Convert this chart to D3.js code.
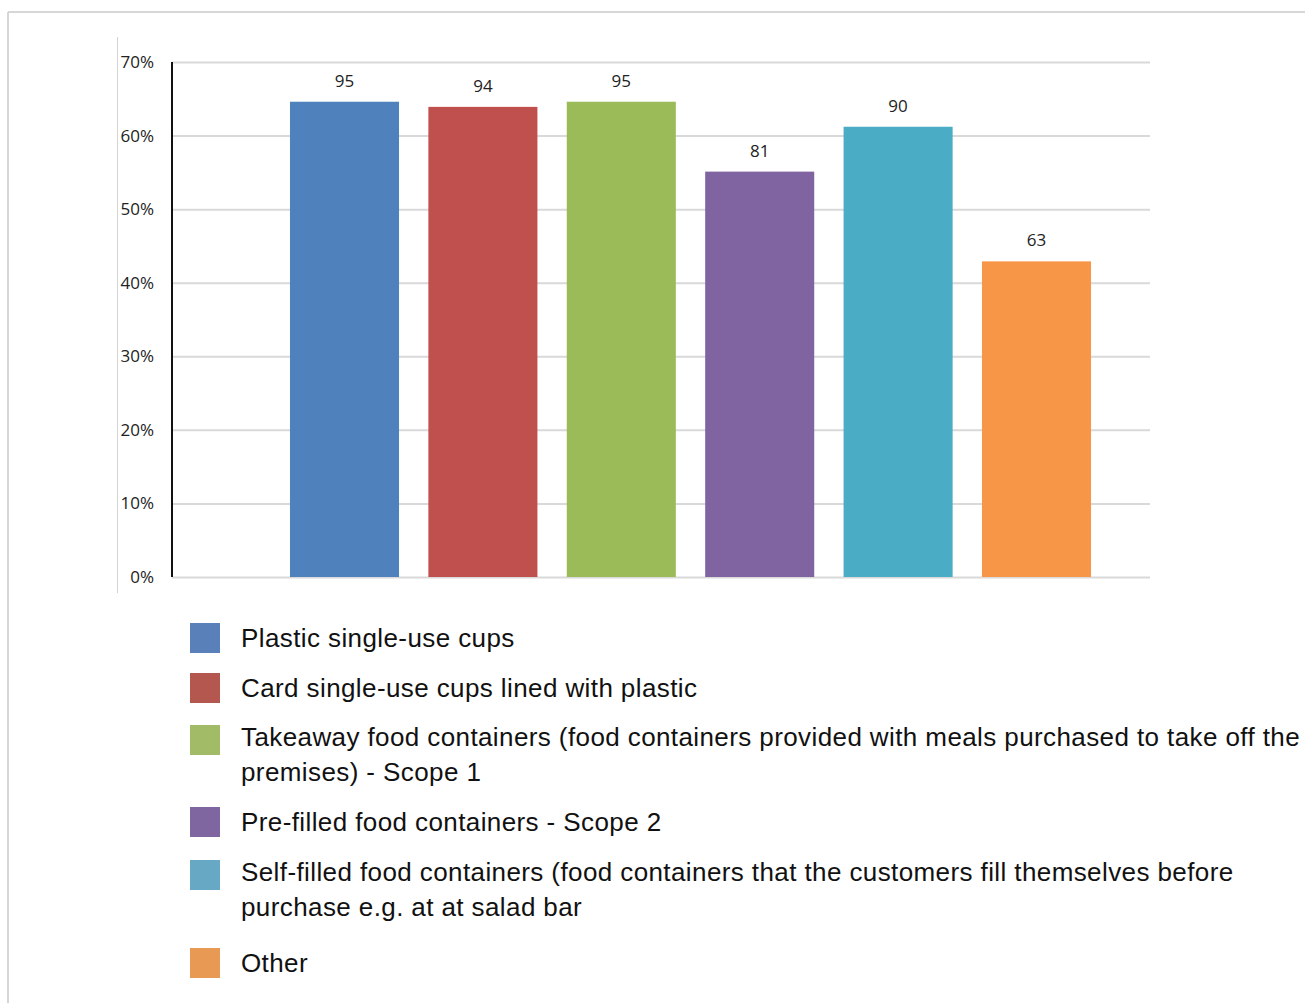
<!DOCTYPE html>
<html><head><meta charset="utf-8">
<script src="https://cdn.jsdelivr.net/npm/d3@7"></script>
<style>body{margin:0;background:#fff;}svg{display:block;}</style>
</head><body>
<svg id="c" width="1305" height="1003"></svg>
<script>
const categories = [
  "Plastic single-use cups",
  "Card single-use cups lined with plastic",
  "Takeaway food containers (food containers provided with meals purchased to take off the|premises) - Scope 1",
  "Pre-filled food containers - Scope 2",
  "Self-filled food containers (food containers that the customers fill themselves before|purchase e.g. at at salad bar",
  "Other"
];
const percentValues = [64.6, 63.9, 64.6, 55.1, 61.2, 42.9];
const countLabels = [95, 94, 95, 81, 90, 63];
const yTicks = [0, 10, 20, 30, 40, 50, 60, 70];
const barColors = ["#4f81bd", "#c0504d", "#9bbb59", "#8064a2", "#4bacc6", "#f79646"];
const legendColors = ["#5a80b9", "#b3574f", "#a2bb66", "#7f66a0", "#67a9c4", "#e89a55"];

const svg = d3.select("#c");
// outer frame
svg.append("line").attr("x1", 8).attr("x2", 1305).attr("y1", 12).attr("y2", 12).attr("stroke", "#d6d6d6").attr("stroke-width", 2);
svg.append("line").attr("x1", 8).attr("x2", 8).attr("y1", 12).attr("y2", 1003).attr("stroke", "#d6d6d6").attr("stroke-width", 2);
// inner image edge
svg.append("line").attr("x1", 117.5).attr("x2", 117.5).attr("y1", 37).attr("y2", 593).attr("stroke", "#d4d4d4").attr("stroke-width", 1);

const y = d3.scaleLinear().domain([0, 70]).range([577, 62]);
const x = d3.scaleBand().domain(d3.range(categories.length)).range([275.3, 1105.7]).paddingInner(0.212).paddingOuter(0.106);

// gridlines
const grid = svg.append("g").attr("transform", "translate(172,0)")
  .call(d3.axisLeft(y).tickValues(yTicks).tickSize(-978).tickFormat(""));
grid.select(".domain").remove();
grid.selectAll(".tick line").attr("stroke", "#d9d9d9").attr("stroke-width", 2);

// y axis labels
const yAx = svg.append("g").attr("transform", "translate(154,0)")
  .call(d3.axisLeft(y).tickValues(yTicks).tickSize(0).tickPadding(0).tickFormat(d => d + "%"));
yAx.select(".domain").remove();
yAx.selectAll("text").attr("font-family", "Open Sans").attr("font-size", 17).attr("fill", "#222").attr("text-anchor", "end");

// bars
svg.append("g").selectAll("rect").data(percentValues).join("rect")
  .attr("x", (d, i) => x(i)).attr("width", x.bandwidth())
  .attr("y", d => y(d)).attr("height", d => y(0) - y(d))
  .attr("fill", (d, i) => barColors[i]);

// value labels
svg.append("g").selectAll("text").data(percentValues).join("text")
  .attr("x", (d, i) => x(i) + x.bandwidth() / 2).attr("y", d => y(d) - 15)
  .attr("text-anchor", "middle").attr("font-family", "Open Sans").attr("font-size", 17).attr("fill", "#222")
  .text((d, i) => countLabels[i]);

// y axis line
svg.append("line").attr("x1", 172).attr("x2", 172).attr("y1", y(70)).attr("y2", y(0)).attr("stroke", "#111").attr("stroke-width", 2);

// legend
const legendTop = [638, 688, 737, 822, 872, 963];
const lg = svg.append("g");
categories.forEach((c, i) => {
  const lines = c.split("|");
  const sy = lines.length > 1 ? legendTop[i] + 3 : legendTop[i];
  lg.append("rect").attr("x", 190).attr("y", sy - 15).attr("width", 30).attr("height", 30).attr("fill", legendColors[i]);
  lines.forEach((t, j) => {
    lg.append("text").attr("x", 241).attr("y", legendTop[i] + j * 35 + 9)
      .attr("font-family", "Liberation Sans").attr("font-size", 26).attr("letter-spacing", 0.4)
      .attr("fill", "#111").text(t);
  });
});
</script>
</body></html>
